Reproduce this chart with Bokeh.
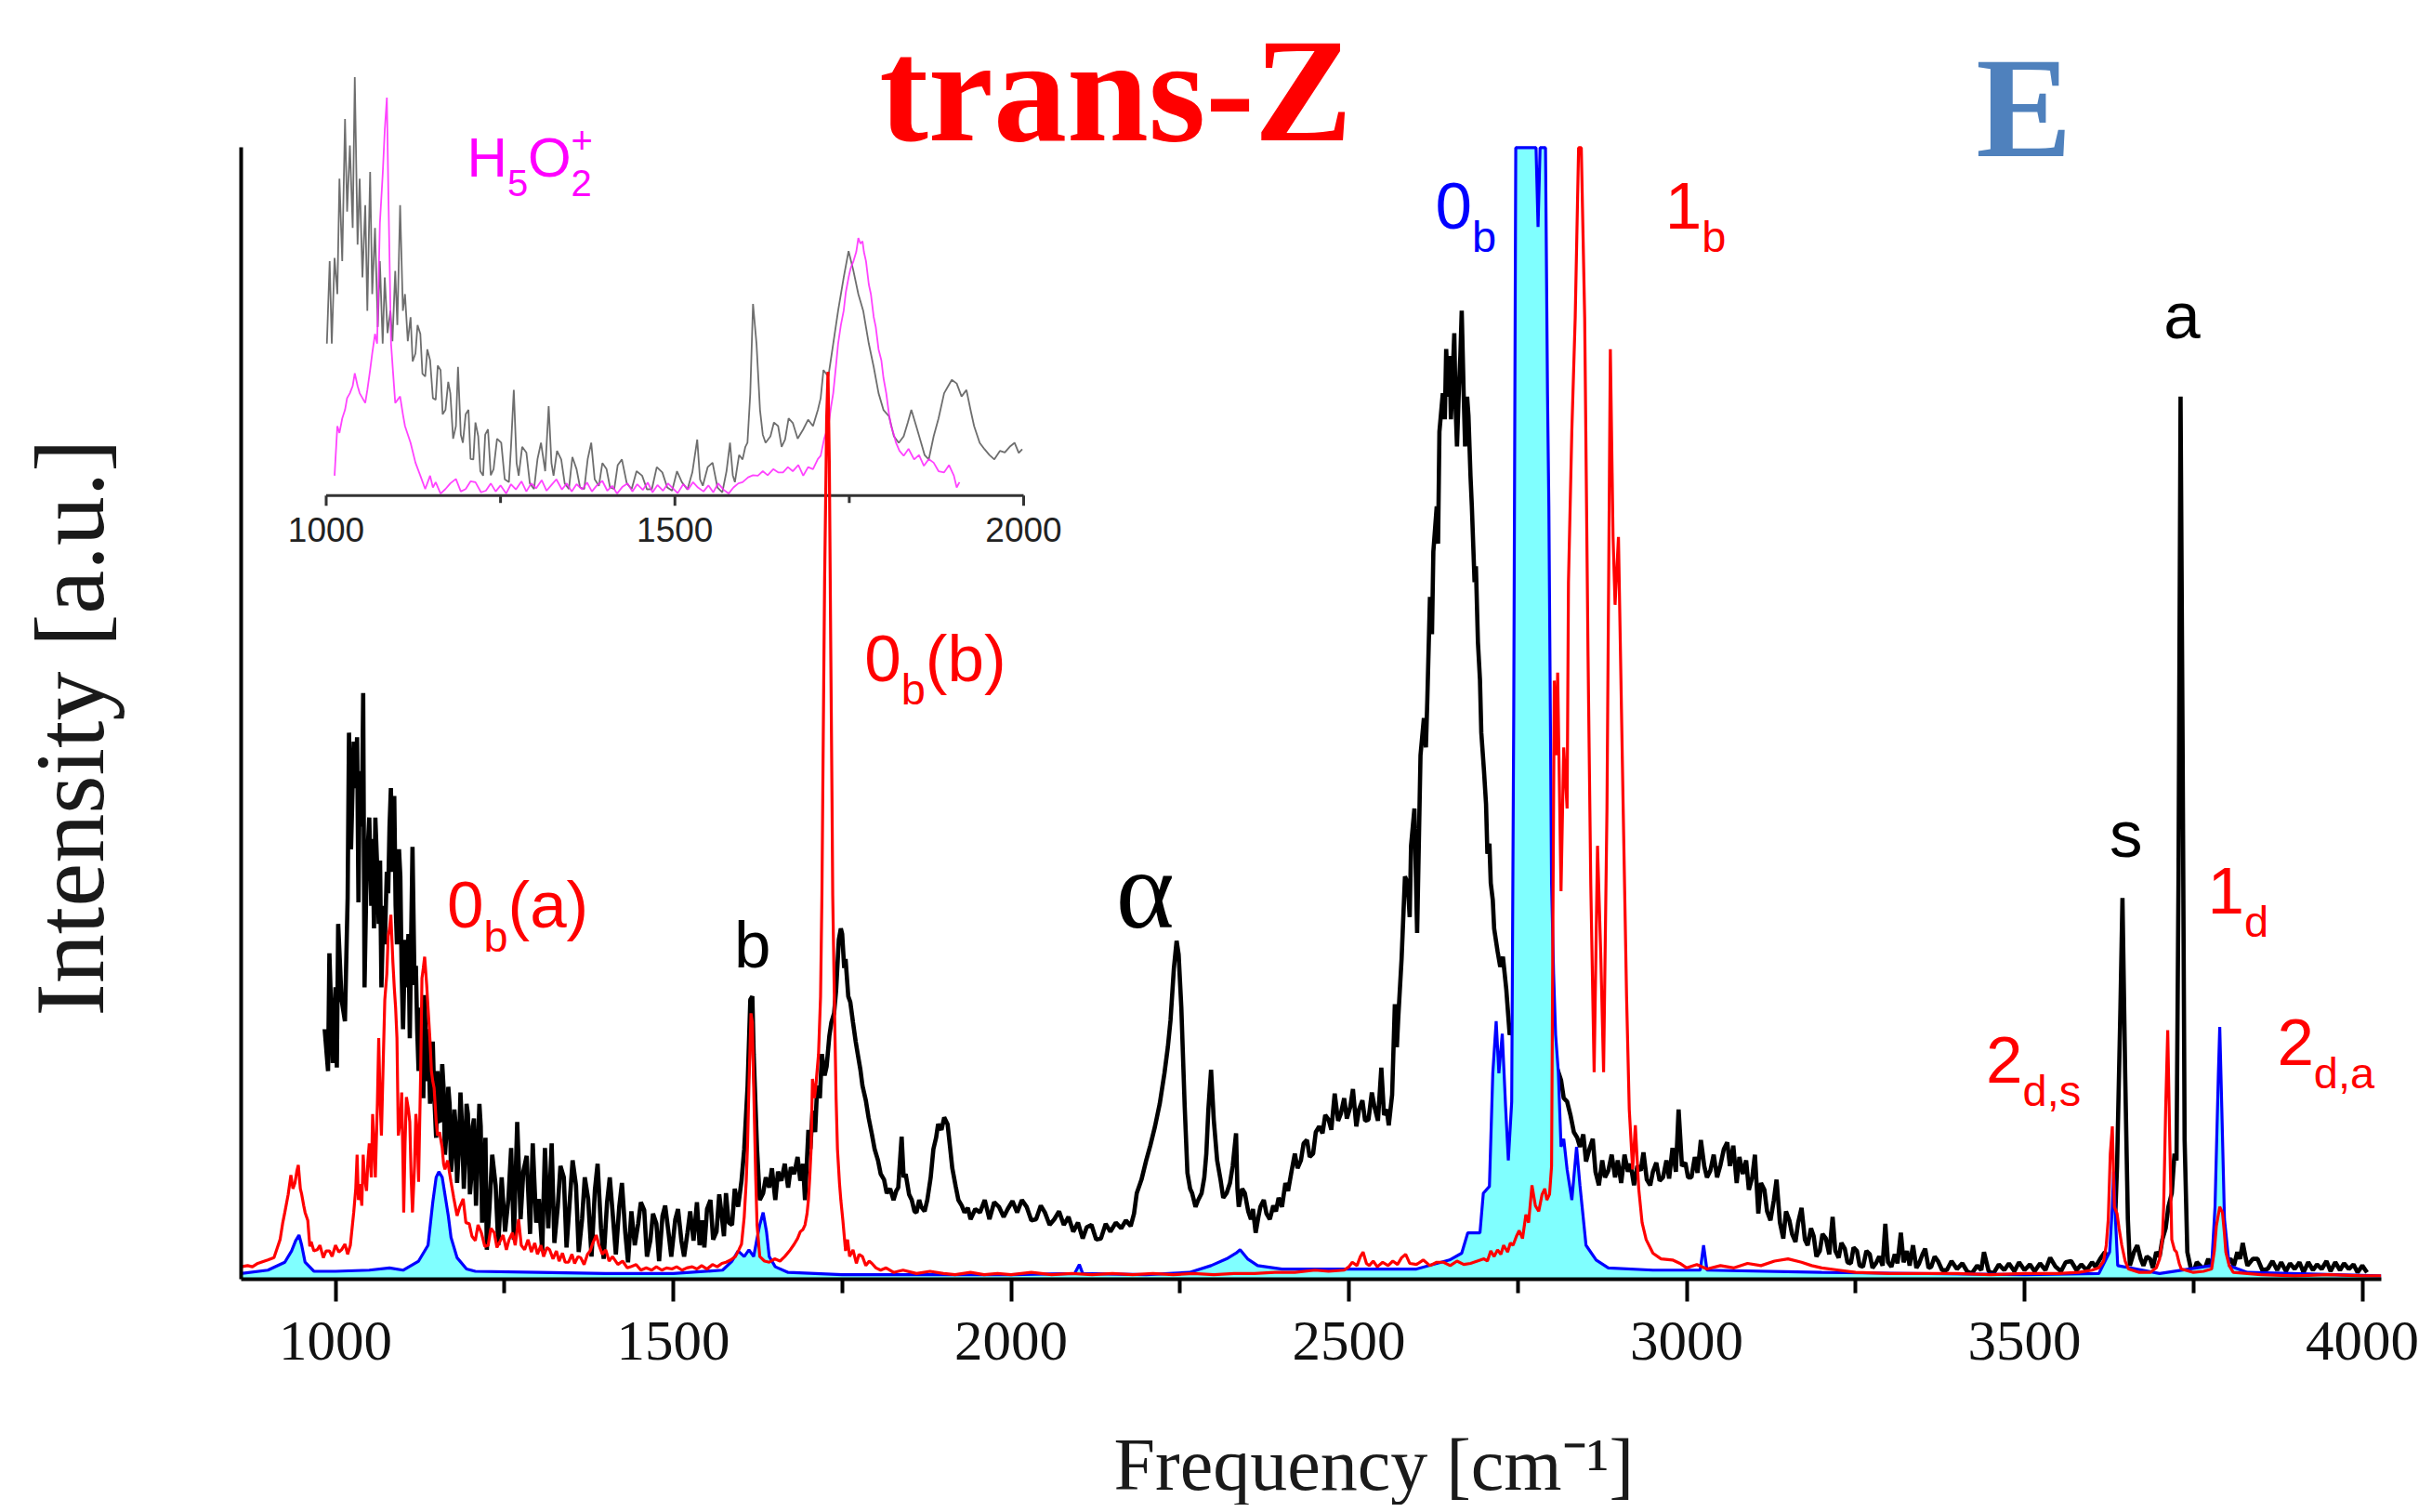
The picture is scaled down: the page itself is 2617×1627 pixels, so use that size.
import math
from bokeh.plotting import figure
from bokeh.models import Range1d, FixedTicker, Label, Title
from bokeh.embed import file_html
from bokeh.resources import INLINE

# ----------------------------------------------------------------- data
X_TICKS = [1000, 1500, 2000, 2500, 3000, 3500, 4000]
X_MINOR = [1250, 1750, 2250, 2750, 3250, 3750]
INSET_TICKS = [1000, 1250, 1500, 1750, 2000]
INSET_LABELED = [1000, 1500, 2000]

# black spectrum (frequency cm-1, intensity a.u.)
BLACK = [
    (984,22.1),(989,18.4),(991,28.8),(996,19.1),(1000,25.8),(1002,18.7),(1004,31.4),(1009,24.7),(1014,22.8),(1018,33.7),
    (1020,48.3),(1023,38.0),(1027,47.5),(1029,43.4),(1032,47.9),(1034,33.3),(1036,44.9),(1039,40.0),(1041,51.8),(1043,25.8),
    (1046,36.0),(1050,40.8),(1053,33.0),(1055,38.9),(1057,31.0),(1059,40.8),(1062,36.0),(1064,31.4),(1066,37.0),(1068,25.8),
    (1071,33.0),(1073,29.6),(1076,36.0),(1078,34.1),(1080,40.0),(1082,43.4),(1085,36.0),(1087,42.7),(1089,33.0),(1091,29.6),
    (1094,38.0),(1096,35.6),(1098,27.0),(1100,22.1),(1103,30.0),(1105,25.8),(1108,30.5),(1110,21.3),(1112,30.0),(1114,38.2),
    (1117,26.0),(1119,27.7),(1121,22.0),(1123,18.4),(1126,24.0),(1128,21.3),(1130,16.0),(1132,25.1),(1135,17.5),(1137,22.1),
    (1140,15.5),(1142,18.4),(1144,21.0),(1146,16.5),(1149,12.5),(1151,18.4),(1153,14.0),(1155,13.9),(1158,19.0),(1160,16.9),
    (1162,11.0),(1164,12.7),(1167,17.0),(1169,15.4),(1171,9.5),(1173,10.9),(1176,15.0),(1178,13.5),(1180,8.5),(1183,12.0),
    (1185,16.5),(1187,13.9),(1190,8.0),(1192,10.9),(1194,15.5),(1196,14.6),(1199,7.5),(1201,9.0),(1203,13.5),(1205,14.2),
    (1208,6.5),(1210,10.1),(1213,15.5),(1215,13.5),(1217,5.0),(1219,7.9),
    (1222,12.5),(1224,2.6),(1228,6.4),(1232,11.0),(1237,8.3),(1241,3.0),(1246,9.0),(1251,4.2),(1256,7.1),(1260,11.6),
    (1264,3.5),(1269,13.9),(1274,5.3),(1278,9.5),(1283,10.9),(1288,4.0),(1292,12.0),(1297,5.0),(1301,7.1),(1306,2.5),
    (1310,11.6),(1315,4.5),(1320,12.0),(1324,3.2),(1329,6.4),(1333,10.0),(1338,9.0),(1342,2.8),(1347,7.1),(1351,10.5),
    (1356,8.3),(1360,2.4),(1365,5.3),(1369,9.0),(1374,7.1),(1379,2.0),(1384,7.9),(1388,10.2),(1393,4.5),(1397,1.8),
    (1402,6.8),(1406,9.0),(1411,5.3),(1415,2.2),(1420,6.4),(1424,8.5),(1429,4.1),(1433,1.5),(1438,6.0),(1443,3.0),
    (1448,4.9),(1452,6.8),(1457,6.1),(1461,2.0),(1466,3.4),(1470,5.8),(1475,4.9),(1479,1.6),(1484,5.6),(1488,6.5),
    (1493,4.1),(1497,2.0),(1503,5.3),(1507,6.2),(1512,3.4),(1516,2.0),(1521,4.1),(1525,6.0),(1530,3.4),
    (1535,6.8),(1539,3.0),(1543,5.2),(1546,2.8),(1550,6.2),(1555,7.0),(1559,3.5),(1564,4.2),(1568,7.5),(1571,6.0),
    (1575,3.8),(1578,7.6),(1582,5.0),(1587,4.8),(1591,8.0),(1596,6.4),(1601,8.7),(1605,11.5),(1610,17.1),(1614,24.7),
    (1617,25.0),(1619,19.9),(1624,11.5),(1628,7.0),(1633,7.6),(1637,9.0),(1642,8.1),(1646,9.8),(1651,7.0),(1655,9.5),
    (1660,8.7),(1665,10.2),(1670,8.1),(1674,9.9),(1679,9.3),(1684,10.8),(1688,8.7),(1692,10.2),(1695,7.0),(1700,13.2),
    (1703,11.5),(1706,14.9),(1710,13.0),(1713,17.1),(1717,16.0),(1720,19.9),(1724,18.0),(1727,18.8),(1731,21.5),(1734,22.7),
    (1738,23.5),(1741,25.5),(1745,30.0),(1748,31.0),(1750,30.5),(1753,27.5),(1755,28.3),(1759,25.0),(1762,24.5),(1766,22.7),
    (1770,21.0),(1773,19.9),(1777,18.5),(1780,17.1),(1785,15.8),(1789,14.3),(1794,12.8),(1798,11.5),(1803,10.5),(1807,9.3),
    (1812,8.8),(1816,7.6),(1821,8.0),(1826,7.0),(1830,7.8),(1833,8.1),(1838,12.6),(1841,9.0),(1844,9.3),(1849,7.5),
    (1853,7.0),(1857,6.0),(1860,5.9),(1864,7.0),(1867,6.4),(1872,6.0),(1876,7.0),(1881,9.0),(1885,11.5),(1889,12.5),
    (1892,13.7),(1897,13.2),(1901,14.3),(1906,13.7),(1910,11.5),(1913,9.8),(1918,8.2),(1922,7.0),(1927,6.5),(1931,5.9),
    (1936,6.3),(1940,5.3),(1947,6.2),(1954,5.9),(1961,7.0),(1968,5.3),(1975,6.8),(1982,6.4),(1989,5.5),(1995,6.2),
    (2002,6.9),(2009,5.9),(2016,7.0),(2023,6.4),(2030,5.2),(2037,5.3),(2044,6.5),(2050,5.9),(2057,4.8),(2064,5.3),
    (2071,6.0),(2078,4.8),(2085,5.5),(2092,4.2),(2099,5.0),(2106,3.6),(2112,4.6),(2119,4.8),(2126,3.5),(2133,3.6),
    (2140,4.9),(2147,4.2),
    (2155,5.0),(2163,4.5),(2170,5.2),(2177,4.7),(2182,5.8),(2186,7.6),(2193,8.8),(2200,10.5),(2206,11.8),(2213,13.5),
    (2220,15.5),(2227,18.2),(2232,20.5),(2236,22.9),(2241,27.5),(2245,29.9),(2248,28.7),(2252,24.0),(2257,15.2),(2261,9.4),
    (2265,8.0),(2268,7.6),(2273,6.4),(2277,7.0),(2282,7.6),(2286,9.0),(2289,11.1),(2292,15.0),(2296,18.5),(2300,14.1),
    (2305,10.5),(2310,8.8),(2314,7.2),(2319,7.6),(2324,8.5),(2328,10.0),(2333,12.9),(2335,8.0),(2337,6.4),(2342,8.0),
    (2346,7.6),(2351,6.0),(2355,5.3),(2358,6.2),(2362,4.1),(2366,5.5),(2369,6.4),(2374,7.0),(2378,5.8),(2383,5.3),
    (2388,6.5),(2392,6.0),(2396,7.2),(2401,6.4),(2406,8.5),(2410,7.8),(2415,9.5),(2420,11.1),(2424,9.8),(2429,10.5),
    (2433,12.0),(2438,12.3),(2442,10.8),(2447,11.1),(2451,13.0),(2456,13.5),(2461,12.9),(2465,14.5),(2470,14.1),(2474,13.2),
    (2479,16.4),(2484,14.0),(2488,14.6),(2493,16.0),(2497,14.2),(2502,15.2),(2506,16.8),(2511,13.5),(2515,15.0),(2520,15.8),
    (2524,14.0),(2529,14.1),(2534,16.5),(2538,15.2),(2543,14.0),(2548,18.7),(2552,14.5),
    (2556,15.0),(2559,13.6),(2564,16.3),(2568,24.3),(2571,20.5),(2573,23.0),(2578,28.3),(2583,35.6),(2587,35.0),(2590,32.0),
    (2592,38.3),(2597,41.6),(2601,30.6),(2604,40.0),(2606,46.3),(2611,49.6),(2614,47.0),(2616,51.0),(2620,60.3),(2623,57.0),
    (2625,64.3),(2630,68.3),(2632,65.0),(2634,74.9),(2639,78.3),(2642,76.0),(2644,82.2),(2647,78.0),(2649,81.6),(2651,76.0),
    (2653,78.9),(2656,83.6),(2658,77.0),(2660,73.6),(2663,79.0),(2665,81.6),(2667,85.6),(2670,78.0),(2672,73.6),(2675,78.0),
    (2677,76.3),(2680,71.0),(2682,68.3),(2686,61.6),(2688,63.0),(2691,56.3),(2694,53.0),(2696,48.3),(2700,44.9),(2703,42.0),
    (2705,37.6),(2708,38.5),(2710,35.0),(2713,33.5),(2715,31.0),(2720,29.0),(2724,27.6),(2728,28.5),(2733,25.6),(2738,21.6),
    (2745,23.0),(2755,22.0),(2765,21.0),(2775,20.5),(2785,20.0),(2795,19.0),(2800,18.5),(2804,19.6),(2809,18.5),(2814,17.6),
    (2818,16.0),(2823,15.7),(2828,14.5),(2833,13.0),(2838,12.5),(2842,11.7),(2847,12.8),(2851,10.4),(2856,11.5),(2861,12.4),
    (2865,9.5),(2870,8.3),(2875,10.5),(2879,9.0),(2884,9.6),(2889,11.0),(2894,9.0),(2898,10.5),(2903,8.5),(2908,11.0),
    (2913,9.5),(2917,10.2),(2922,8.3),(2927,10.0),(2932,9.6),(2936,11.2),(2941,8.8),(2946,8.3),(2950,9.5),(2955,10.3),
    (2960,8.7),(2965,9.0),(2970,10.5),(2974,8.9),(2979,11.6),(2984,9.5),(2988,15.0),(2993,10.0),(2998,10.3),(3002,9.0),
    (3007,9.0),(3012,10.8),(3016,9.4),(3021,12.3),(3026,10.0),(3030,9.0),(3035,9.6),(3040,11.0),(3045,9.0),
    (3050,10.1),(3055,11.5),(3060,12.1),(3064,10.0),(3069,11.8),(3074,8.5),(3078,10.8),(3083,9.3),(3088,10.5),(3092,7.9),
    (3097,9.0),(3101,11.0),(3106,5.8),(3110,8.5),(3115,7.9),(3119,6.0),(3124,5.2),(3129,7.0),(3133,8.8),(3138,5.0),
    (3143,3.6),(3147,6.0),(3152,5.2),(3156,4.0),(3161,3.3),(3165,5.0),(3170,6.3),(3175,3.5),(3179,3.0),(3184,4.5),
    (3188,3.8),(3192,2.0),(3197,2.5),(3201,4.0),(3206,3.6),(3211,2.2),(3216,5.5),(3220,2.5),(3225,1.9),(3229,3.2),
    (3234,2.7),(3238,1.5),(3243,1.4),(3247,2.8),(3252,2.5),(3256,1.2),(3261,1.1),(3266,2.5),(3271,2.2),(3275,1.0),
    (3280,1.4),(3285,2.0),(3290,1.2),(3294,4.9),(3298,1.5),(3303,1.1),(3308,2.2),(3312,1.4),(3317,4.1),(3321,1.5),
    (3326,2.5),(3330,1.2),(3335,3.0),(3340,1.0),(3344,1.4),(3349,2.2),(3353,2.7),(3358,1.0),(3362,1.1),(3367,2.0),
    (3372,1.6),(3378,0.8),(3385,0.8),(3392,1.6),(3400,0.9),(3408,1.4),(3415,0.7),(3422,0.5),(3430,1.2),(3436,0.8),
    (3440,2.4),(3447,0.7),(3454,0.5),(3462,1.3),(3470,0.8),(3477,1.4),(3485,0.7),(3492,1.5),(3500,0.8),(3508,1.3),
    (3515,0.7),(3523,1.4),(3531,0.8),(3538,1.9),(3546,1.1),(3554,0.7),(3561,1.5),(3569,1.6),(3577,0.8),(3584,1.3),
    (3592,0.8),(3600,1.5),(3605,1.1),(3612,1.8),(3619,2.4),
    (3625,1.2),(3632,1.8),(3637,10.0),(3642,24.0),(3645,33.7),(3649,18.2),(3653,5.3),(3656,1.2),(3662,2.4),(3667,3.0),
    (3672,1.8),(3676,1.2),(3681,2.0),(3686,1.8),(3690,1.0),(3695,2.4),(3700,2.0),(3704,3.5),(3709,4.5),(3713,6.4),
    (3718,7.6),(3722,11.1),(3725,10.5),(3728,35.7),(3731,78.0),(3734,47.4),(3737,12.3),(3741,2.4),(3746,1.0),(3750,0.6),
    (3755,1.5),(3760,1.2),(3766,0.8),(3772,1.8),(3778,1.0),(3784,1.5),(3790,0.9),(3797,1.4),(3805,1.8),(3810,1.2),
    (3815,2.4),(3819,1.8),(3823,3.2),(3827,2.0),(3830,1.2),(3838,1.8),(3845,1.8),(3852,0.8),(3860,0.9),(3867,1.6),
    (3874,0.8),(3880,1.5),(3887,0.7),(3893,1.4),(3900,0.9),(3907,1.5),(3913,0.6),(3920,1.5),(3927,0.8),(3933,1.3),
    (3940,0.9),(3947,1.6),(3953,0.7),(3960,1.5),(3967,0.8),(3973,1.4),(3980,0.9),(3987,1.3),(3993,0.6),(4000,1.2),
    (4007,0.6),
]

# red spectrum
RED = [
    (860,1.1),(870,1.2),(877,1.1),(885,1.4),(890,1.5),(900,1.7),(909,1.9),(914,2.8),(918,3.5),(922,5.0),
    (925,5.9),(930,7.5),(934,9.2),(937,8.0),(940,8.5),(943,9.6),(945,10.1),(948,8.0),(950,7.5),(953,6.5),
    (955,5.9),(959,5.2),(962,2.9),(964,3.3),(968,2.5),(973,2.6),(977,3.0),(982,1.9),(986,2.5),(991,2.5),
    (995,2.0),(1000,3.0),(1005,2.4),(1009,2.6),(1014,3.1),(1018,2.2),(1022,3.0),(1027,5.9),(1030,8.0),(1032,11.0),
    (1034,7.0),(1036,8.4),(1039,6.5),(1041,11.0),(1043,9.0),(1046,7.8),(1048,10.5),(1050,12.0),(1053,9.0),(1055,14.6),
    (1057,12.0),(1059,9.0),(1062,15.5),(1064,21.3),(1066,16.0),(1068,12.7),(1071,20.0),(1073,24.7),(1076,27.0),(1078,30.3),
    (1080,31.0),(1082,32.2),(1085,28.0),(1087,25.8),(1089,24.0),(1091,21.3),(1093,12.7),(1096,14.0),(1098,16.5),(1100,10.0),
    (1101,5.9),(1103,12.0),(1105,16.1),(1108,15.0),(1110,13.9),(1112,9.0),(1114,5.9),(1117,10.0),(1119,14.6),(1121,13.0),
    (1123,8.6),(1126,18.0),(1128,26.6),(1130,27.5),(1132,28.5),(1135,26.0),(1137,24.0),(1140,21.0),(1142,18.4),(1144,17.5),
    (1146,16.9),(1149,14.0),(1151,12.7),(1154,13.0),(1158,11.6),(1160,10.2),(1162,9.7),(1166,10.5),(1171,8.6),(1175,7.2),
    (1180,5.6),(1184,6.4),(1189,7.1),(1193,5.0),(1198,4.9),(1202,3.8),(1207,3.4),(1211,4.8),(1216,4.1),(1221,2.9),
    (1226,3.0),(1230,4.5),(1235,4.1),(1239,2.8),(1244,3.4),(1248,3.9),(1253,2.6),(1257,3.5),(1262,4.1),(1266,3.0),
    (1271,5.3),(1275,3.0),(1280,2.6),(1285,3.5),(1290,2.4),(1295,3.2),(1299,2.2),(1304,3.0),(1308,2.0),(1313,2.8),
    (1317,2.6),(1322,1.8),(1327,2.5),(1331,1.6),(1336,2.3),(1340,1.5),(1345,1.5),(1350,2.2),(1354,1.4),(1359,2.0),
    (1363,1.9),(1368,1.3),(1373,2.2),(1377,2.5),(1381,3.2),(1386,3.9),(1390,3.0),(1395,2.2),(1400,2.6),(1405,1.6),
    (1410,2.0),(1418,1.3),(1425,1.6),(1432,1.0),(1437,1.1),(1445,1.3),(1452,0.8),(1460,1.0),(1468,0.8),(1475,1.1),
    (1483,0.8),(1490,1.0),(1498,0.9),(1505,1.1),(1513,0.8),(1520,1.0),(1528,1.1),(1535,0.9),(1542,1.2),(1550,0.9),
    (1558,1.3),(1565,1.1),(1572,1.4),(1578,1.5),(1585,1.7),(1592,2.0),(1597,2.6),(1601,3.1),(1605,5.5),(1608,8.7),
    (1610,12.0),(1612,17.1),(1615,23.5),(1617,22.7),(1620,14.3),(1622,9.0),(1624,4.8),(1628,2.0),(1635,1.6),(1642,1.5),
    (1650,1.8),(1658,1.6),(1665,2.0),(1672,2.5),(1679,3.1),(1684,3.6),(1688,4.2),(1692,4.4),(1695,4.8),(1698,5.8),
    (1700,7.0),(1702,9.0),(1704,11.5),(1706,17.7),(1709,16.0),(1711,17.1),(1713,18.5),(1715,19.9),(1718,25.0),(1720,33.9),
    (1722,48.0),(1724,61.9),(1726,71.0),(1727,76.0),(1729,80.2),(1731,72.0),(1733,56.3),(1735,42.0),(1736,33.9),(1739,22.7),
    (1741,16.0),(1743,11.5),(1746,8.5),(1748,7.0),(1751,5.2),(1755,2.5),(1758,3.5),(1761,2.0),(1766,2.6),(1771,1.4),
    (1775,2.2),(1780,2.0),(1785,1.2),(1790,1.6),(1794,1.4),(1800,1.0),(1807,0.8),(1815,1.0),(1826,0.6),(1840,0.8),
    (1860,0.5),(1880,0.7),(1900,0.5),(1917,0.4),(1940,0.6),(1960,0.4),(1980,0.5),(2000,0.4),(2030,0.6),(2060,0.4),
    (2090,0.5),(2120,0.4),(2150,0.5),(2180,0.4),(2210,0.5),(2240,0.4),(2270,0.5),(2300,0.4),(2330,0.5),(2360,0.5),
    (2390,0.6),(2420,0.6),(2450,0.8),(2470,0.7),(2493,0.8),(2500,1.1),(2505,1.5),(2512,1.2),(2517,2.0),(2521,2.4),
    (2526,1.4),(2530,1.2),(2536,1.6),(2542,1.1),(2550,1.5),(2558,1.2),(2565,1.6),(2572,1.3),(2578,1.9),(2584,2.2),
    (2590,1.4),(2600,1.3),(2610,1.7),(2620,1.2),(2630,1.5),(2640,1.5),(2650,1.2),(2660,1.6),(2670,1.3),(2680,1.4),
    (2690,1.6),(2700,1.8),(2705,1.6),(2710,2.5),(2715,2.0),(2720,2.6),(2725,2.2),(2729,3.0),(2735,2.4),(2739,3.2),
    (2743,3.0),(2748,3.8),(2752,4.3),(2757,3.6),(2762,5.7),(2766,5.0),(2771,8.3),(2776,6.5),(2781,6.0),(2786,7.5),
    (2790,8.0),(2793,7.0),(2797,7.5),(2800,10.0),(2804,52.9),(2807,46.3),(2809,53.6),(2814,34.3),(2818,47.0),(2823,41.6),
    (2825,61.6),(2830,75.0),(2835,85.0),(2840,100.0),(2844,100.0),(2849,85.0),(2854,55.0),(2858,35.0),(2863,18.3),(2868,38.3),
    (2873,28.3),(2877,18.3),(2882,41.6),(2887,82.2),(2891,65.6),(2894,59.6),(2899,65.6),(2906,41.6),(2911,25.0),(2915,15.0),
    (2920,9.7),(2924,13.6),(2929,8.0),(2934,5.0),(2940,3.5),(2950,2.3),(2962,1.8),(2979,1.7),(2990,1.4),(3000,1.0),
    (3015,1.3),(3030,0.9),(3050,1.2),(3070,1.0),(3090,1.4),(3110,1.2),(3130,1.6),(3150,1.8),(3170,1.5),(3185,1.2),
    (3200,1.0),(3225,0.8),(3250,0.6),(3300,0.5),(3350,0.5),(3400,0.5),(3450,0.4),(3500,0.5),(3550,0.5),(3580,0.6),
    (3600,0.8),(3610,1.0),(3617,1.6),(3621,3.0),(3624,5.3),(3627,11.1),(3630,13.5),(3633,6.4),(3637,5.8),(3640,4.5),
    (3644,3.0),(3649,1.6),(3654,0.9),(3670,0.6),(3686,0.6),(3695,1.0),(3700,1.8),(3704,3.5),(3706,6.4),(3709,15.2),
    (3712,22.0),(3715,12.3),(3718,3.5),(3722,2.6),(3725,2.4),(3729,1.4),(3732,0.9),(3750,0.6),(3765,0.7),(3777,0.9),
    (3781,2.5),(3784,4.7),(3789,6.4),(3793,5.9),(3796,4.0),(3798,2.4),(3803,1.2),(3809,0.6),(3850,0.4),(3900,0.3),
    (3950,0.4),(4000,0.3),(4028,0.3),
]

# blue spectrum (area below it is shaded cyan)
BLUE = [
    (860,0.5),(900,0.8),(925,1.5),(935,2.5),(941,3.4),(946,3.9),(950,3.0),(955,1.5),(968,0.7),(1000,0.7),
    (1050,0.8),(1080,1.0),(1100,0.8),(1123,1.6),(1137,3.0),(1144,6.8),(1149,9.0),(1153,9.5),(1158,9.0),(1162,7.5),
    (1167,5.6),(1171,3.7),(1180,1.9),(1194,0.9),(1207,0.7),(1300,0.6),(1400,0.5),(1500,0.5),(1573,0.8),(1587,1.6),
    (1596,2.5),(1605,2.0),(1612,2.6),(1619,2.0),(1624,3.6),(1628,4.8),(1633,5.9),(1638,4.2),(1642,2.0),(1651,1.1),
    (1670,0.6),(1750,0.4),(2000,0.4),(2094,0.5),(2101,1.3),(2106,0.5),(2200,0.4),(2264,0.6),(2296,1.2),(2319,1.8),
    (2333,2.3),(2339,2.6),(2350,1.8),(2365,1.2),(2401,0.9),(2500,0.9),(2600,0.9),(2649,1.7),(2667,2.3),(2676,4.1),
    (2694,4.1),(2699,7.6),(2708,8.2),(2713,18.2),(2718,22.8),(2722,18.2),(2727,21.7),(2732,15.2),(2736,10.5),(2741,15.7),
    (2744,50.0),(2747,100.0),(2777,100.0),(2780,93.0),(2783,100.0),(2791,100.0),(2794,78.2),(2796,68.2),(2800,35.0),(2803,27.0),
    (2806,21.6),(2810,18.3),(2814,11.7),(2818,12.4),(2823,9.7),(2830,7.0),(2837,11.7),(2842,8.3),(2851,3.0),(2866,1.7),
    (2884,1.0),(2950,0.8),(3020,0.8),(3025,3.0),(3030,0.8),(3200,0.6),(3500,0.4),(3610,0.5),(3626,2.4),(3630,6.4),
    (3632,9.5),(3635,4.9),(3638,1.2),(3700,0.5),(3777,1.2),(3782,6.4),(3787,18.2),(3789,22.3),(3792,15.2),(3796,5.3),
    (3803,1.2),(3830,0.6),(4028,0.3),
]

# inset: grey trace and H5O2+ trace (inset units, 0..100)
INSET_GREY = [
    (1001,37.4),(1005,57.7),(1008,37.4),(1012,58.5),(1016,49.6),(1019,78.0),(1023,57.7),(1027,92.7),(1030,69.9),(1034,86.2),
    (1038,65.9),(1041,103.0),(1045,61.8),(1048,78.0),(1052,53.7),(1056,71.5),(1059,45.5),(1063,79.7),(1066,49.6),(1070,65.9),
    (1074,41.5),(1077,57.7),(1081,37.4),(1084,53.7),(1088,40.0),(1092,45.5),(1095,38.0),(1099,55.3),(1102,42.0),(1106,71.5),
    (1110,45.5),(1113,49.6),(1117,38.0),(1121,43.9),(1124,33.0),(1128,35.0),(1131,42.0),(1135,39.8),(1138,30.0),(1142,29.3),
    (1145,36.0),(1149,33.3),(1153,24.0),(1157,23.6),(1160,32.0),(1164,30.9),(1167,20.0),(1171,21.1),(1175,28.0),(1178,25.2),
    (1182,14.0),(1186,17.1),(1189,31.7),(1193,15.0),(1196,13.0),(1200,20.0),(1204,21.1),(1207,9.0),(1211,8.9),(1214,18.0),
    (1218,14.6),(1221,6.0),(1225,4.9),(1228,15.0),(1232,16.3),(1236,5.0),(1240,6.5),(1245,14.0),(1251,13.0),(1256,4.0),
    (1262,3.3),(1265,12.0),(1269,26.0),(1273,8.0),(1276,4.9),(1281,12.0),(1287,10.6),(1292,3.0),(1298,1.6),(1303,9.0),
    (1308,13.0),(1314,6.0),(1319,22.0),(1323,8.0),(1326,4.9),(1331,11.0),(1337,8.9),(1342,3.0),(1348,1.6),(1353,9.5),
    (1359,6.5),(1364,2.0),(1370,1.6),(1375,9.0),(1380,13.0),(1385,4.0),(1391,2.4),(1396,8.0),(1402,6.5),(1407,2.0),
    (1413,1.6),(1418,7.5),(1424,8.9),(1431,3.0),(1438,1.6),(1445,6.0),(1453,4.9),(1460,1.5),(1467,1.6),(1474,7.0),
    (1482,5.7),(1489,2.0),(1496,1.2),(1503,6.0),(1510,3.3),(1518,1.5),(1525,5.7),(1532,13.8),(1536,4.0),(1540,2.4),
    (1547,7.0),(1554,8.1),(1561,2.0),(1568,0.8),(1574,6.0),(1579,13.0),(1583,5.0),(1586,3.3),(1592,10.0),(1597,8.9),
    (1601,12.0),(1604,13.0),(1608,25.0),(1612,47.2),(1617,37.4),(1622,21.1),(1626,15.0),(1630,13.0),(1637,14.6),(1642,18.0),
    (1648,17.1),(1653,12.0),(1658,13.8),(1663,19.0),(1669,17.9),(1676,14.0),(1684,16.3),(1691,18.7),(1698,17.1),(1705,21.1),
    (1709,24.0),(1713,30.9),(1720,29.3),(1727,37.4),(1734,45.5),(1742,53.7),(1749,60.2),(1756,55.3),(1763,49.6),(1770,45.5),
    (1778,37.4),(1785,31.7),(1792,25.2),(1799,21.1),(1807,19.5),(1814,14.6),(1821,13.0),(1828,14.6),(1834,18.0),(1839,21.1),
    (1846,17.1),(1853,13.0),(1858,10.0),(1864,8.9),(1871,14.6),(1878,19.0),(1886,25.2),(1892,27.0),(1897,28.5),(1904,27.6),
    (1911,24.4),(1918,26.0),(1924,21.0),(1929,17.1),(1937,13.0),(1944,11.4),(1951,10.0),(1958,8.9),(1966,11.0),(1973,10.6),
    (1980,12.0),(1987,13.0),(1993,10.5),(1998,11.4),
]

INSET_H5O2 = [
    (1012,4.9),(1016,17.1),(1019,15.4),(1023,19.0),(1027,21.1),(1030,24.0),(1034,25.2),(1038,27.0),(1041,30.1),(1045,27.0),
    (1048,25.2),(1052,24.0),(1056,22.8),(1059,26.0),(1063,30.9),(1066,35.0),(1070,39.8),(1073,37.4),(1077,67.0),(1081,79.0),
    (1084,90.0),(1087,98.0),(1089,76.0),(1093,37.4),(1096,30.0),(1099,22.8),(1106,24.4),(1110,20.0),(1113,17.1),(1121,13.0),
    (1128,8.1),(1135,4.9),(1142,1.6),(1149,4.9),(1153,2.0),(1157,3.3),(1164,0.5),(1171,1.6),(1178,3.0),(1186,4.1),
    (1193,1.0),(1200,1.6),(1207,3.5),(1214,3.3),(1222,0.8),(1229,1.2),(1236,3.0),(1243,1.0),(1250,2.5),(1258,0.5),
    (1265,2.8),(1272,1.5),(1280,3.5),(1287,1.0),(1294,3.0),(1301,1.8),(1309,3.8),(1316,1.2),(1323,2.6),(1330,4.0),
    (1338,1.5),(1345,3.0),(1352,1.0),(1359,2.8),(1367,1.5),(1374,3.2),(1381,1.0),(1388,2.5),(1396,3.6),(1403,1.2),
    (1410,2.4),(1417,0.5),(1425,2.2),(1432,3.0),(1439,1.0),(1446,2.8),(1454,1.4),(1461,3.2),(1468,0.8),(1475,2.6),
    (1483,1.2),(1490,3.0),(1497,1.8),(1504,0.6),(1512,2.8),(1519,1.5),(1526,3.3),(1533,2.0),(1541,1.0),(1548,2.5),
    (1555,0.8),(1562,3.0),(1570,1.4),(1577,0.5),(1584,2.0),(1591,3.0),(1597,3.3),(1605,4.5),(1612,5.0),(1619,4.9),
    (1626,6.0),(1633,5.0),(1641,6.5),(1648,5.7),(1655,5.7),(1662,7.0),(1669,6.0),(1677,7.5),(1684,4.9),(1691,7.0),
    (1698,6.5),(1705,9.0),(1709,9.8),(1714,14.0),(1720,17.1),(1724,22.0),(1727,25.2),(1731,32.0),(1734,37.4),(1738,42.0),
    (1742,45.5),(1745,50.0),(1749,53.7),(1752,56.0),(1756,57.7),(1760,60.0),(1763,63.4),(1766,62.0),(1769,62.6),(1771,60.0),
    (1774,57.7),(1778,52.0),(1781,49.6),(1785,44.0),(1788,41.5),(1792,36.0),(1796,33.3),(1799,29.0),(1803,25.2),(1807,20.0),
    (1810,17.1),(1814,15.0),(1817,13.0),(1822,11.0),(1828,9.8),(1835,11.5),(1843,8.9),(1850,10.0),(1857,7.3),(1864,9.0),
    (1871,8.1),(1878,6.0),(1886,5.7),(1893,7.5),(1900,4.9),(1904,2.0),(1908,3.3),
]

# peak labels: anchor (frequency, intensity of text baseline), parts, colour
PEAK_LABELS = [
    (1165, 31.2, [("0", "n"), ("b", "sub"), ("(a)", "n")], "#ff0000"),
    (1590, 27.7, [("b", "n")], "#000000"),
    (1783, 53.0, [("0", "n"), ("b", "sub"), ("(b)", "n")], "#ff0000"),
    (2628, 93.0, [("0", "n"), ("b", "sub")], "#0000ff"),
    (2968, 93.0, [("1", "n"), ("b", "sub")], "#ff0000"),
    (3706, 83.3, [("a", "n")], "#000000"),
    (3626, 37.5, [("s", "n")], "#000000"),
    (3771, 32.5, [("1", "n"), ("d", "sub")], "#ff0000"),
    (3443, 17.5, [("2", "n"), ("d,s", "sub")], "#ff0000"),
    (3874, 19.1, [("2", "n"), ("d,a", "sub")], "#ff0000"),
]
ALPHA_LABEL = (2155, 31.3, "\u03b1")
INSET_LABEL = (1202, 78.9, [("H", "n"), ("5", "sub"), ("O", "n"), ("2", "substack"), ("+", "sup")])
Y_TITLE = "Intensity [a.u.]"
X_TITLE = "Frequency [cm\u207b\u00b9]"

# ----------------------------------------------------------------- layout (canvas px)
W, H = 2608, 1619
FL, FR, FT, FB = 259, 2562, 30, 1382      # frame edges
AX_TOP = 159                               # intensity 100 (top of the y axis)
X1000, X4000 = 360.5, 2541.5               # 1000 and 4000 cm-1
px_x = (X4000 - X1000) / 3000.0
px_y = (FB - AX_TOP) / 100.0
x_start = 1000 - (X1000 - FL) / px_x
x_end = 4000 + (FR - X4000) / px_x
y_end = (FB - FT) / px_y

# inset placement
I1000, I2000 = 350.5, 1101.0
I_BASE, I_TOP = 535.0, 96.0
ipx_x = (I2000 - I1000) / 1000.0
ipx_y = (I_BASE - I_TOP) / 100.0

BASE_SHIFT = 0.32   # label text is drawn centred on its anchor: lift it so the anchor is the baseline
Y_TITLE_PAD = "\u00a0" * 6   # moves the centred y title down to where the reference has it

p = figure(width=W, height=H, title=None, output_backend="svg", toolbar_location=None,
           x_range=Range1d(x_start, x_end), y_range=Range1d(0, y_end),
           min_border_left=FL, min_border_right=W - FR, min_border_top=FT, min_border_bottom=H - FB)
p.outline_line_color = None
p.grid.visible = False
p.background_fill_color = "white"
p.border_fill_color = "white"

p.extra_x_ranges = {"ix": Range1d(1000 - (I1000 - FL) / ipx_x, 1000 + (FR - I1000) / ipx_x)}
p.extra_y_ranges = {"iy": Range1d(-(FB - I_BASE) / ipx_y, (I_BASE - FT) / ipx_y)}

# axes
xa = p.xaxis[0]
xa.ticker = FixedTicker(ticks=X_TICKS, minor_ticks=X_MINOR)
xa.axis_line_width = 4
xa.axis_line_color = "#000000"
xa.major_tick_line_width = 4
xa.minor_tick_line_width = 4
xa.major_tick_out = 24
xa.major_tick_in = 0
xa.minor_tick_out = 15
xa.minor_tick_in = 0
xa.major_label_standoff = 22
xa.major_label_text_font = "Liberation Sans Narrow"
xa.major_label_text_font_size = "61px"
xa.major_label_text_color = "#111111"
xa.axis_label = " "                     # spacer: pushes the frequency title down
xa.axis_label_standoff = 60
xa.axis_label_text_font_size = "1px"

ya = p.yaxis[0]
ya.ticker = FixedTicker(ticks=[])
ya.bounds = (0, 100)
ya.axis_line_width = 4
ya.axis_line_color = "#000000"
ya.major_tick_out = 0
ya.major_tick_in = 0
ya.minor_tick_out = 0
ya.minor_tick_in = 0
ya.major_label_standoff = 0
ya.major_label_text_font_size = "0px"
ya.axis_label = Y_TITLE + Y_TITLE_PAD
ya.axis_label_standoff = 126
ya.axis_label_text_font = "Liberation Serif"
ya.axis_label_text_font_size = "106px"
ya.axis_label_text_font_style = "normal"
ya.axis_label_text_color = "#1a1a1a"

p.add_layout(Title(text=X_TITLE, align="left", offset=939, standoff=0,
                   text_font="Liberation Serif", text_font_size="80px", text_font_style="normal",
                   text_color="#1a1a1a"), "below")

# ----------------------------------------------------------------- inset
gx, gy = zip(*INSET_GREY)
mx, my = zip(*INSET_H5O2)
p.line(list(gx), list(gy), x_range_name="ix", y_range_name="iy", line_color="#4a4a4a", line_alpha=0.8, line_width=1.8)
p.line(list(mx), list(my), x_range_name="ix", y_range_name="iy", line_color="#ff22ff", line_alpha=0.85, line_width=1.8)
p.segment(x0=[INSET_TICKS[0]], y0=[0], x1=[INSET_TICKS[-1]], y1=[0], x_range_name="ix", y_range_name="iy",
          line_color="#333333", line_width=3)
tick_len = [(11 if t in INSET_LABELED else 8) / ipx_y for t in INSET_TICKS]
p.segment(x0=INSET_TICKS, y0=[0] * len(INSET_TICKS), x1=INSET_TICKS, y1=[-l for l in tick_len],
          x_range_name="ix", y_range_name="iy", line_color="#333333", line_width=3)
for t in INSET_LABELED:
    p.add_layout(Label(x=t, y=(-49 + BASE_SHIFT * 37) / ipx_y, text=str(t), x_range_name="ix", y_range_name="iy",
                       text_align="center", text_baseline="alphabetic", text_font="Liberation Sans",
                       text_font_size="37px", text_color="#222222"))

# ----------------------------------------------------------------- main spectra
bx, by = zip(*BLACK)
rx, ry = zip(*RED)
ux, uy = zip(*BLUE)
p.line(list(bx), list(by), line_color="#000000", line_width=4.6)
p.varea(x=list(ux), y1=[0] * len(ux), y2=list(uy), fill_color="#80ffff")
p.line(list(ux), list(uy), line_color="#0000ff", line_width=3.2)
p.line(list(rx), list(ry), line_color="#ff0000", line_width=3.2)

# ----------------------------------------------------------------- texts
SANS_W = {'0': .556, '1': .556, '2': .556, '5': .556, 'a': .556, 'b': .556, 'd': .556, 's': .5,
          '(': .333, ')': .333, ',': .278, 'H': .722, 'O': .778, '+': .584}


def text_width(s, size):
    return sum(SANS_W.get(c, .556) for c in s) * size


def add_text(x, y, text, size, sy, **kw):
    p.add_layout(Label(x=x, y=y + BASE_SHIFT * size / sy, text=text, text_font_size="%dpx" % round(size),
                       text_baseline="alphabetic", **kw))


def rich(x, y, parts, color, size, sx, sy, rng=None, font="Liberation Sans"):
    cur = 0.0
    kw = {}
    if rng:
        kw = dict(x_range_name=rng[0], y_range_name=rng[1])
    for txt, kind in parts:
        fs = size if kind == "n" else size * 0.66
        if kind == "n":
            dy = 0
        elif kind in ("sub", "substack"):
            dy = -0.36 * size
        else:
            dy = 0.42 * size
        add_text(x + cur / sx, y + dy / sy, txt, fs, sy, text_color=color, text_font=font,
                 text_align="left", **kw)
        if kind != "substack":
            cur += text_width(txt, fs)


for lx, ly, parts, col in PEAK_LABELS:
    rich(lx, ly, parts, col, 71, px_x, px_y)

add_text(ALPHA_LABEL[0], ALPHA_LABEL[1], ALPHA_LABEL[2], 120, px_y, text_font="Liberation Serif",
         text_color="#000000", text_align="left")

rich(INSET_LABEL[0], INSET_LABEL[1], INSET_LABEL[2], "#ff00ff", 60, ipx_x, ipx_y, rng=("ix", "iy"))

# titles
add_text(2155, 100.9, "trans-Z", 158, px_y, text_font="Liberation Serif", text_font_style="bold",
         text_color="#ff0000", text_align="center")
add_text(3428, 99.5, "E", 155, px_y, text_font="Liberation Serif", text_font_style="bold",
         text_color="#4f81bd", text_align="left")

open("out.html", "w").write(file_html(p, INLINE))
